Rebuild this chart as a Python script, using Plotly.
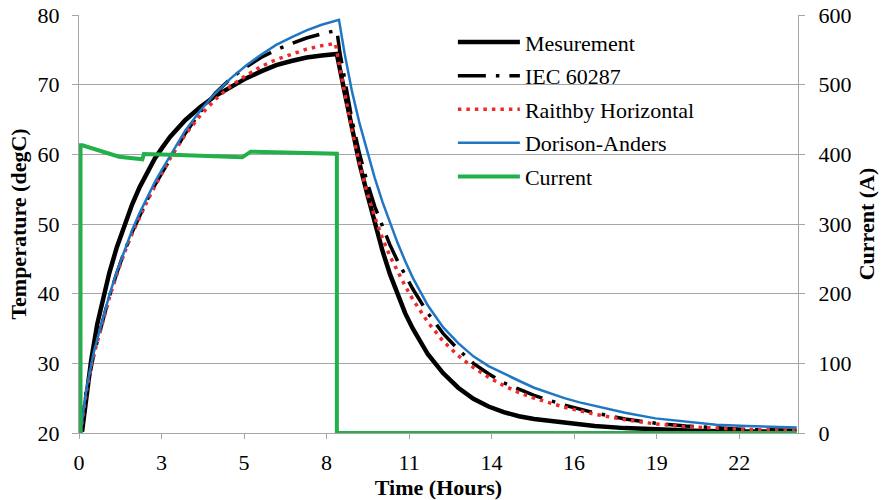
import plotly.graph_objects as go

# ---------------- data ----------------
TICK_HOURS = [0, 2.72, 5.44, 8.16, 10.88, 13.6, 16.32, 19.04, 21.76]
TICK_LABELS = ["0", "3", "5", "8", "11", "14", "16", "19", "22"]

meas_t = [0.1, 0.25, 0.4, 0.6, 0.8, 1.0, 1.25, 1.5, 1.75, 2.0, 2.25, 2.5, 2.75, 3.0,
          3.5, 4.0, 4.5, 5.0, 5.5, 6.0, 6.5, 7.0, 7.5, 8.0, 8.5,
          8.75, 9.0, 9.25, 9.5, 9.75, 10.0, 10.25, 10.5, 10.75, 11.0, 11.5, 12.0,
          12.5, 13.0, 13.5, 14.0, 14.5, 15.0, 16.0, 17.0, 18.0, 19.0, 20.5, 22.0, 23.6]
meas_T = [20.2, 25.6, 30.4, 35.6, 39.6, 43.0, 46.7, 49.9, 52.8, 55.3, 57.5, 59.4, 61.0, 62.5,
          64.9, 66.8, 68.4, 69.7, 70.9, 71.9, 72.8, 73.4, 73.9, 74.2, 74.4,
          69.0, 63.6, 58.6, 54.3, 50.0, 46.2, 42.8, 39.8, 37.2, 35.0, 31.3, 28.6,
          26.5, 24.9, 23.8, 23.0, 22.4, 22.0, 21.5, 21.0, 20.7, 20.5, 20.3, 20.2, 20.2]

iec_t = [0.05, 0.25, 0.5, 0.75, 1.0, 1.25, 1.5, 1.75, 2.0, 2.25, 2.5, 2.75, 3.0, 3.5,
         4.0, 4.5, 5.0, 5.5, 6.0, 6.5, 7.0, 7.5, 8.0, 8.5,
         8.6, 8.8, 9.0, 9.25, 9.5, 9.75, 10.0, 10.25, 10.5, 10.75, 11.0, 11.5, 12.0,
         12.5, 13.0, 13.5, 14.0, 14.5, 15.0, 16.0, 17.0, 18.0, 19.0, 20.0, 21.0, 22.0, 23.66]
iec_T = [20.0, 26.3, 31.5, 35.7, 39.6, 43.0, 46.1, 48.8, 51.2, 53.5, 55.6, 57.5, 59.4, 63.0,
         66.1, 68.8, 70.9, 72.5, 73.9, 75.0, 75.9, 76.7, 77.3, 77.8,
         74.6, 69.4, 64.9, 60.0, 56.0, 52.5, 49.6, 47.0, 44.7, 42.6, 40.7, 37.2, 34.3,
         32.0, 30.0, 28.5, 27.2, 26.3, 25.4, 24.0, 22.9, 22.0, 21.4, 21.0, 20.7, 20.5, 20.4]

raith_t = [0.05, 0.25, 0.5, 0.75, 1.0, 1.25, 1.5, 1.75, 2.0, 2.25, 2.5, 2.75, 3.0, 3.5,
           4.0, 4.5, 5.0, 5.5, 6.0, 6.5, 7.0, 7.5, 8.0, 8.45,
           8.6, 8.8, 9.0, 9.25, 9.5, 9.75, 10.0, 10.25, 10.5, 10.75, 11.0, 11.5, 12.0,
           12.5, 13.0, 13.5, 14.0, 14.5, 15.0, 16.0, 17.0, 18.0, 19.0, 20.0, 21.0, 22.0, 23.66]
raith_T = [20.0, 26.2, 31.4, 35.6, 39.4, 42.8, 45.9, 48.6, 51.0, 53.3, 55.4, 57.3, 59.4, 62.8,
           65.6, 67.9, 69.8, 71.3, 72.6, 73.6, 74.4, 75.1, 75.6, 75.9,
           72.4, 67.6, 63.4, 58.6, 54.4, 51.0, 48.0, 45.4, 43.2, 41.1, 39.2, 35.9, 33.2,
           31.1, 29.4, 28.0, 26.8, 25.8, 25.0, 23.7, 22.7, 21.9, 21.3, 20.9, 20.7, 20.5, 20.4]

dor_t = [0.05, 0.25, 0.5, 0.75, 1.0, 1.25, 1.5, 1.75, 2.0, 2.25, 2.5, 2.75, 3.0, 3.5,
         4.0, 4.5, 5.0, 5.5, 6.0, 6.5, 7.0, 7.5, 8.0, 8.57,
         8.75, 9.0, 9.25, 9.5, 9.75, 10.0, 10.25, 10.5, 10.75, 11.0, 11.5, 12.0,
         12.5, 13.0, 13.5, 14.0, 14.5, 15.0, 15.5, 16.0, 16.5, 17.0, 18.0, 19.0, 20.0,
         21.0, 22.0, 23.66]
dor_T = [20.0, 26.5, 31.8, 36.0, 39.8, 43.2, 46.3, 49.1, 51.6, 53.9, 56.0, 57.9, 59.7, 63.4,
         66.3, 68.8, 70.9, 72.7, 74.3, 75.7, 76.8, 77.8, 78.6, 79.3,
         74.6, 69.0, 64.4, 60.4, 56.6, 53.2, 50.1, 47.3, 44.7, 42.3, 38.3, 35.2,
         32.9, 31.0, 29.6, 28.5, 27.5, 26.5, 25.7, 25.0, 24.4, 23.9, 22.9, 22.1, 21.6,
         21.2, 21.0, 20.8]

cur_t = [0.05, 0.05, 0.11, 0.66, 1.32, 2.09, 2.14, 3.3, 5.38, 5.66, 8.46, 8.5, 8.5, 23.66]
cur_A = [0, 413, 413, 406, 396.6, 392.8, 400.4, 399, 395.7, 403.8, 401.5, 401, 0, 0]

# ---------------- figure ----------------
FONT = "Liberation Serif, Times New Roman, serif"
GRID = "#a6a6a6"
TF = dict(family=FONT, size=22, color="black")

fig = go.Figure()
fig.add_trace(go.Scatter(x=meas_t, y=meas_T, name="Mesurement", mode="lines",
                         line=dict(color="black", width=4.5), legendgroup="a"))
fig.add_trace(go.Scatter(x=iec_t, y=iec_T, name="IEC 60287", mode="lines",
                         line=dict(color="black", width=3.5, dash="28px,10px,3.5px,10px"),
                         legendgroup="b"))
fig.add_trace(go.Scatter(x=raith_t, y=raith_T, name="Raithby Horizontal", mode="lines",
                         line=dict(color="#ee2a2a", width=3.5, dash="3.5px,5px"),
                         legendgroup="c"))
fig.add_trace(go.Scatter(x=dor_t, y=dor_T, name="Dorison-Anders", mode="lines",
                         line=dict(color="#1f77c4", width=2.5), legendgroup="d"))
fig.add_trace(go.Scatter(x=cur_t, y=cur_A, name="Current", mode="lines", yaxis="y2",
                         line=dict(color="#22b04b", width=4), legendgroup="e"))

fig.update_layout(
    width=886, height=500,
    margin=dict(l=79, r=88, t=15, b=67),
    paper_bgcolor="white", plot_bgcolor="white",
    font=TF,
    showlegend=True,
    legend=dict(x=0.520, y=0.985, xanchor="left", yanchor="top",
                bgcolor="rgba(0,0,0,0)", font=TF,
                itemwidth=62, tracegroupgap=2),
    xaxis=dict(range=[0, 23.7], tickmode="array", tickvals=TICK_HOURS,
               ticktext=TICK_LABELS, showgrid=False, zeroline=False, automargin=False,
               showline=True, linecolor=GRID, linewidth=1.3, tickfont=TF,
               ticks="outside", ticklen=5, tickcolor=GRID, ticklabelstandoff=4,
               title=dict(text="<b>Time (Hours)</b>", font=TF, standoff=11)),
    yaxis=dict(range=[20, 80], dtick=10, showgrid=True, gridcolor=GRID, gridwidth=1.3,
               zeroline=False, showline=True, linecolor=GRID, linewidth=1.3, automargin=False,
               ticks="outside", ticklen=6, tickcolor=GRID, tickfont=TF, ticklabelstandoff=8,
               title=dict(text="<b>Temperature (degC)</b>", font=TF, standoff=4)),
    yaxis2=dict(range=[0, 600], dtick=100, overlaying="y", side="right", automargin=False,
                showgrid=False, zeroline=False, showline=True, linecolor=GRID,
                linewidth=1.3, ticks="outside", ticklen=6, tickcolor=GRID, tickfont=TF,
                ticklabelstandoff=9,
                title=dict(text="<b>Current (A)</b>", font=TF, standoff=8)),
)

fig.write_html("out.html")
